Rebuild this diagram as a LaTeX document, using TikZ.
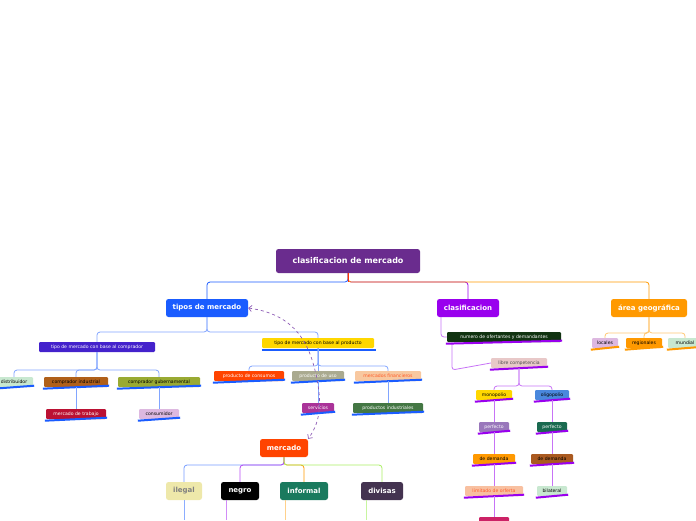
\documentclass[tikz,border=0pt]{standalone}
\usepackage{fontspec}
\setmainfont{DejaVu Sans}
\usetikzlibrary{arrows.meta}
\definecolor{cblue}{HTML}{1A5CFF}
\definecolor{cpurp}{HTML}{9900EE}
\definecolor{corg}{HTML}{FF9900}
\begin{document}
\begin{tikzpicture}[x=1pt,y=-1pt,
 big/.style={rounded corners=2.5pt,font=\bfseries\fontsize{7}{8}\selectfont,text=white,inner sep=0pt,minimum height=18pt},
 sm/.style={rounded corners=1.2pt,font=\fontsize{4.6}{5}\selectfont,inner sep=0pt,minimum height=10pt},
 ub/.style={line width=2pt,cblue},
 up/.style={line width=2pt,cpurp},
 uo/.style={line width=2pt,corg},
 cb/.style={draw=cblue!55,line width=0.8pt,rounded corners=3pt},
 cp/.style={draw=cpurp!55,line width=0.8pt,rounded corners=3pt},
 co/.style={draw=corg!55,line width=0.8pt,rounded corners=3pt}]
\useasboundingbox (0,0) rectangle (696,520);
% root
\node[big,fill={rgb,255:red,106;green,44;blue,142},minimum width=144pt,minimum height=24pt,font=\bfseries\fontsize{8}{9}\selectfont] (root) at (348,261) {clasificacion de mercado};
\node[big,fill=cblue,minimum width=82pt] (tipos) at (207,308) {tipos de mercado};
\node[big,fill=cpurp,minimum width=62pt] (clas) at (468,308) {clasificacion};
\node[big,fill=corg,minimum width=76pt] (area) at (649,308) {área geográfica};
\draw[draw=cblue,line width=0.8pt,rounded corners=3pt] (root.south) -- (348,282) -- (207,282) -- (tipos.north);
\draw[draw=cpurp,line width=0.8pt,rounded corners=3pt] (root.south) -- (348,282) -- (468,282) -- (clas.north);
\draw[draw=corg,line width=0.8pt,rounded corners=3pt] (root.south) -- (348,282) -- (649,282) -- (area.north);
\draw[red!60!orange,line width=0.8pt] (root.south) -- (348,282);
% tipos branch
\node[sm,fill={rgb,255:red,68;green,34;blue,204},text=white,minimum width=116pt] (tcomp) at (97,347) {tipo de mercado con base al comprador};
\node[sm,fill={rgb,255:red,255;green,215;blue,0},minimum width=112pt] (tprod) at (318,343) {tipo de mercado con base al producto};
\draw[ub] (tprod.south west)++(0,1.5) -- ++(114,0);
\draw[cb] (tipos.south) -- (207,332) -- (97,332) -- (tcomp.north);
\draw[cb] (tipos.south) -- (207,332) -- (318,332) -- (tprod.north);
% comprador children
\node[sm,fill={rgb,255:red,200;green,232;blue,208},minimum width=38pt] (dist) at (14,382) {distribuidor};
\node[sm,fill={rgb,255:red,176;green,96;blue,26},minimum width=64pt] (cind) at (76,382) {comprador industrial};
\node[sm,fill={rgb,255:red,153;green,170;blue,51},minimum width=82pt] (cgub) at (159,382) {comprador gubernamental};
\foreach \n in {dist,cind,cgub}{\draw[ub] (\n.south west)++(-1,1.5) -- ([xshift=1pt,yshift=1.5pt]\n.south east);}
\draw[cb] (tcomp.south) -- (97,370) -- (14,370) -- (dist.north);
\draw[cb] (tcomp.south) -- (97,370) -- (76,370) -- (cind.north);
\draw[cb] (tcomp.south) -- (97,370) -- (159,370) -- (cgub.north);
\node[sm,fill={rgb,255:red,187;green,17;blue,51},text=white,minimum width=60pt] (mtrab) at (76,414) {mercado de trabajo};
\node[sm,fill={rgb,255:red,221;green,184;blue,224},minimum width=40pt] (cons) at (159,414) {consumidor};
\foreach \n in {mtrab,cons}{\draw[ub] (\n.south west)++(-1,1.5) -- ([xshift=1pt,yshift=1.5pt]\n.south east);}
\draw[cb] (cind.south) -- (mtrab.north);
\draw[cb] (cgub.south) -- (cons.north);
% producto children
\node[sm,fill={rgb,255:red,255;green,68;blue,0},text=white,minimum width=70pt] (pcons) at (249,376) {producto de consumos};
\node[sm,fill={rgb,255:red,170;green,170;blue,144},text=white,minimum width=52pt] (puso) at (318,376) {producto de uso};
\node[sm,fill={rgb,255:red,248;green,200;blue,160},text={rgb,255:red,255;green,90;blue,40},minimum width=66pt] (mfin) at (388,376) {mercados financieros};
\foreach \n in {pcons,puso,mfin}{\draw[ub] (\n.south west)++(-1,1.5) -- ([xshift=1pt,yshift=1.5pt]\n.south east);}
\draw[cb] (tprod.south) -- (318,366) -- (249,366) -- (pcons.north);
\draw[cb] (tprod.south) -- (puso.north);
\draw[cb] (tprod.south) -- (318,366) -- (388,366) -- (mfin.north);
\node[sm,fill={rgb,255:red,170;green,51;blue,153},text=white,minimum width=32pt] (serv) at (318,408) {servicios};
\node[sm,fill={rgb,255:red,68;green,119;blue,68},text=white,minimum width=70pt] (pind) at (388,408) {productos industriales};
\foreach \n in {serv,pind}{\draw[ub] (\n.south west)++(-1,1.5) -- ([xshift=1pt,yshift=1.5pt]\n.south east);}
\draw[cb] (puso.south) -- (serv.north);
\draw[cb] (mfin.south) -- (pind.north);
% mercado
\node[big,fill={rgb,255:red,255;green,68;blue,0},minimum width=48pt] (merc) at (284,448) {mercado};
\draw[dashed,draw={rgb,255:red,140;green,90;blue,180},line width=0.7pt,{Straight Barb[length=3pt]}-{Straight Barb[length=3pt]}] (tipos.east) .. controls (300,315) and (312,350) .. (318,385) .. controls (322,410) and (318,425) .. (merc.north east);
\node[big,fill={rgb,255:red,238;green,232;blue,170},text=gray,minimum width=36pt] (ileg) at (184,491) {ilegal};
\node[big,fill=black,minimum width=38pt] (negro) at (240,491) {negro};
\node[big,fill={rgb,255:red,26;green,122;blue,94},minimum width=48pt] (inf) at (304,491) {informal};
\node[big,fill={rgb,255:red,68;green,51;blue,80},minimum width=42pt] (div) at (382,491) {divisas};
\draw[draw=cblue!60,line width=0.8pt,rounded corners=3pt] (merc.south) -- (284,465) -- (184,465) -- (ileg.north);
\draw[draw=cpurp!70,line width=0.8pt,rounded corners=3pt] (merc.south) -- (284,465) -- (240,465) -- (negro.north);
\draw[draw=corg,line width=0.8pt,rounded corners=3pt] (merc.south) -- (284,465) -- (304,465) -- (inf.north);
\draw[draw={rgb,255:red,170;green,238;blue,100},line width=0.8pt,rounded corners=3pt] (merc.south) -- (284,465) -- (382,465) -- (div.north);
\coordinate (e1) at (184,520); \coordinate (e2) at (226,520); \coordinate (e3) at (285,520); \coordinate (e4) at (366,520);
\draw[draw=cblue!50,line width=0.8pt] (184,500) -- (e1);
\draw[draw=cpurp!45,line width=0.8pt] (226,500) -- (e2);
\draw[draw=corg!45,line width=0.8pt] (285,500) -- (e3);
\draw[draw={rgb,255:red,200;green,245;blue,160},line width=0.8pt] (366,500) -- (e4);
% clasificacion branch
\node[sm,fill={rgb,255:red,17;green,51;blue,17},text=white,minimum width=114pt] (num) at (504,337) {numero de  ofertantes y demandantes};
\node[sm,fill={rgb,255:red,232;green,200;blue,200},text=black!70,minimum width=56pt] (libre) at (519,363) {libre competencia};
\draw[cp] ([xshift=-27pt]clas.south) -- (441,337) -- (num.west);
\draw[cp] (452,342) -- (452,370) -- (libre.west);
\node[sm,fill={rgb,255:red,255;green,215;blue,0},minimum width=36pt] (mono) at (494,395) {monopolio};
\node[sm,fill={rgb,255:red,74;green,136;blue,221},minimum width=34pt] (oli) at (552,395) {oligopolio};
\node[sm,fill={rgb,255:red,153;green,119;blue,187},text=white,minimum width=30pt] (p1) at (494,427) {perfecto};
\node[sm,fill={rgb,255:red,26;green,106;blue,80},text=white,minimum width=30pt] (p2) at (552,427) {perfecto};
\node[sm,fill=corg,minimum width=42pt] (d1) at (494,459) {de demanda};
\node[sm,fill={rgb,255:red,170;green,90;blue,32},minimum width=42pt] (d2) at (552,459) {de demanda};
\node[sm,fill={rgb,255:red,248;green,192;blue,160},text={rgb,255:red,255;green,90;blue,40},minimum width=58pt] (lim) at (494,491) {limitado de orferta};
\node[sm,fill={rgb,255:red,200;green,232;blue,208},minimum width=30pt] (bil) at (552,491) {bilateral};
\node[sm,fill={rgb,255:red,204;green,34;blue,102},minimum width=30pt] (pink) at (494,522) {};
\foreach \n in {num,libre,mono,oli,p1,p2,d1,d2,lim,bil}{\draw[up] (\n.south west)++(-1,1.5) -- ([xshift=1pt,yshift=1.5pt]\n.south east);}
\draw[cp] (libre.south) -- (519,386) -- (494,386) -- (mono.north);
\draw[cp] (libre.south) -- (519,386) -- (552,386) -- (oli.north);
\draw[cp] (mono.south) -- (p1.north); \draw[cp] (p1.south) -- (d1.north); \draw[cp] (d1.south) -- (lim.north); \draw[cp] (lim.south) -- (pink.north);
\draw[cp] (oli.south) -- (p2.north); \draw[cp] (p2.south) -- (d2.north); \draw[cp] (d2.south) -- (bil.north);
% area
\node[sm,fill={rgb,255:red,221;green,184;blue,224},minimum width=26pt] (loc) at (605,343) {locales};
\node[sm,fill=corg,minimum width=36pt] (reg) at (644,343) {regionales};
\node[sm,fill={rgb,255:red,200;green,232;blue,208},minimum width=34pt] (mun) at (685,343) {mundial};
\foreach \n in {loc,reg,mun}{\draw[uo] (\n.south west)++(-1,1.5) -- ([xshift=1pt,yshift=1.5pt]\n.south east);}
\draw[co] (area.south) -- (649,333) -- (605,333) -- (loc.north);
\draw[co] (area.south) -- (649,333) -- (644,333) -- (reg.north);
\draw[co] (area.south) -- (649,333) -- (685,333) -- (mun.north);
\end{tikzpicture}
\end{document}
